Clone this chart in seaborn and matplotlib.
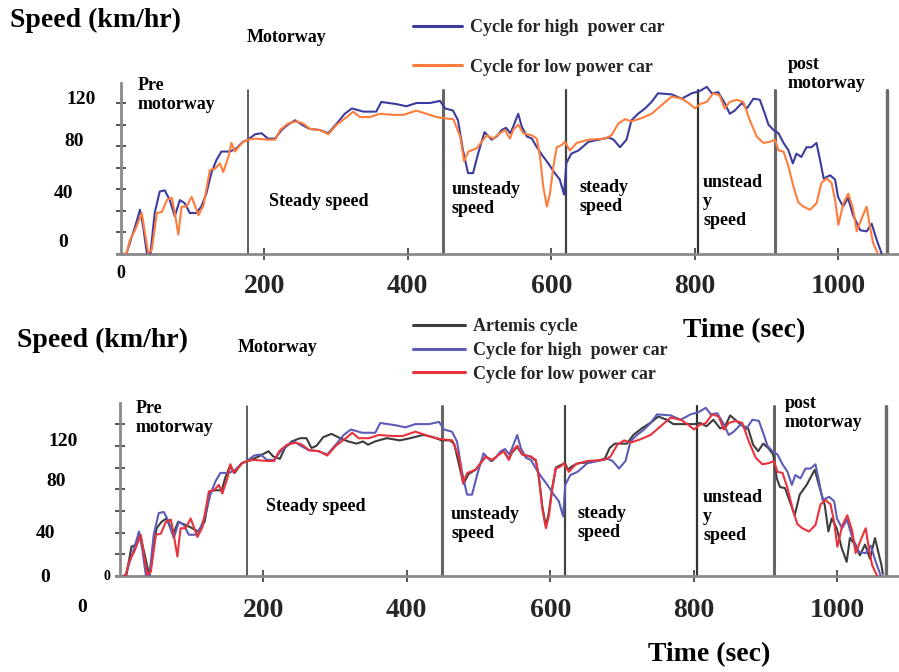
import numpy as np
import pandas as pd
import matplotlib
matplotlib.use("Agg")
import matplotlib.pyplot as plt
import seaborn as sns
from matplotlib.lines import Line2D

# ---------------- data (speed in km/h against time in s) ----------------
high_t = [5, 8, 15, 19.5, 26.5, 31, 36, 41, 47, 54, 61, 68, 75, 82, 89, 96, 105, 112, 119, 126,
          133, 140, 152, 161, 170, 177, 187, 196, 205, 215, 224, 233, 243, 252, 263, 277, 289, 301,
          312, 322, 338, 356, 363, 384, 398, 412, 431, 445, 452, 463, 470, 477, 484, 491, 498, 507,
          517, 524, 531, 537, 543, 547, 554, 559, 566, 573, 580, 587, 596, 605, 612, 618, 621, 628,
          638, 652, 666, 680, 687, 696, 705, 712, 721, 731, 740, 749, 768, 782, 796, 807, 817, 824,
          833, 842, 849, 856, 866, 873, 882, 891, 898, 903, 910, 917, 924, 931, 937, 942, 949, 956,
          963, 970, 975, 980, 989, 996, 1000, 1007, 1014, 1021, 1031, 1040, 1047, 1054, 1059, 1061]
high_v = [0, 1, 16, 25, 41, 25, 1, 0, 38, 58, 59, 50, 35, 50, 47, 38, 38, 44, 56, 75,
          87, 95, 95, 98, 104, 106, 111, 112, 107, 107, 115, 120, 124, 120, 116, 115, 112, 121,
          130, 135, 132, 132, 141, 139, 137, 140, 140, 142, 135, 133, 124, 96, 75, 75, 93, 113,
          106, 109, 115, 117, 112, 118, 130, 118, 109, 107, 99, 92, 84, 75, 69, 55, 84, 93,
          96, 104, 106, 108, 106, 99, 106, 124, 130, 135, 141, 149, 148, 144, 149, 151, 155, 149,
          150, 140, 130, 133, 140, 135, 144, 143, 130, 120, 115, 112, 103, 96, 84, 93, 90, 99,
          99, 103, 87, 70, 73, 69, 53, 44, 52, 36, 22, 21, 28, 13, 4, 0]

low_t = [5, 8, 12.5, 19.5, 29, 33.5, 38, 43, 50, 57, 64, 71, 75, 80, 84.5, 91.5, 98.6, 108, 115, 124,
         131, 138, 142.7, 149.7, 154, 159, 163.6, 170.5, 177.5, 187, 205.5, 215, 222, 233, 245, 254,
         263.5, 277.5, 289, 301, 315, 324, 333, 347, 361, 380, 394, 412, 426, 440, 449.5, 463.5,
         473, 478.5, 484.5, 496, 503, 510, 519, 528.6, 535.5, 542.5, 547, 554, 561, 573, 580, 584.4,
         589, 594, 598.3, 603, 607.7, 614.6, 619, 626, 635.6, 652, 675, 684, 693.6, 703, 712, 726,
         740, 754, 768, 782, 791.5, 800.6, 807.5, 817, 826, 835, 842, 849, 858.7, 868, 877, 886.6,
         896, 905, 912, 917, 924, 931, 938, 944.6, 951.6, 961, 970, 977, 984, 991, 996, 1000.5,
         1007.5, 1014.4, 1021, 1026, 1033, 1040, 1044.6, 1049, 1056]
low_v = [0, 1, 13, 22, 38, 19, 1, 4, 38, 39, 50, 52, 38, 18, 44, 44, 53, 36, 45, 78,
         79, 84, 76, 90, 103, 95, 99, 104, 106, 107, 106, 106, 115, 121, 123, 121,
         116, 115, 111, 120, 127, 132, 127, 127, 130, 129, 129, 133, 130, 127, 126, 125,
         109, 86, 95, 98, 104, 110, 107, 112, 115, 107, 115, 120, 112, 110, 107, 90,
         62, 44, 56, 81, 99, 101, 104, 96, 103, 106, 107, 110, 121, 125, 123, 126,
         130, 138, 146, 144, 140, 135, 139, 141, 149, 147, 135, 141, 143, 141, 124, 109,
         103, 104, 106, 96, 95, 81, 62, 48, 44, 41, 47, 66, 70, 66, 50, 27,
         47, 56, 42, 21, 33, 44, 25, 10, 0]

artemis_t = [5, 9, 16, 23, 28, 35, 41, 51, 58, 65, 74, 81, 88, 98, 109, 118, 125.5, 132.5, 142,
             146.5, 153, 160, 169.7, 179, 193, 207, 214, 223, 230, 239.5, 251, 260, 267, 274,
             283.5, 295, 307, 318.5, 330, 339, 346, 355.6, 372, 390.5, 404.5, 423, 437, 448.6,
             460, 466, 472, 479, 486, 496, 503, 510, 519, 528, 535, 542, 547, 554, 561, 573, 580,
             584, 589, 594, 598, 603, 608, 614, 620.6, 625, 630, 639, 658, 676, 683, 690, 707,
             716, 727.6, 741.6, 750.8, 762.5, 771.7, 787, 801, 809, 818, 827.5, 837, 844, 851,
             858, 867, 876, 883, 890, 897, 904, 911, 916, 920.5, 927.5, 934, 941, 948, 957.7,
             969, 976, 983, 988, 992.6, 999.6, 1006.5, 1013.5, 1018, 1025, 1032, 1039, 1046,
             1053, 1057.6, 1062, 1064]
artemis_v = [0, 1, 27, 29, 38, 18, 0, 44, 50, 53, 38, 50, 48, 45, 41, 50, 78, 79, 79,
             90, 101, 95, 104, 106, 110, 115, 110, 108, 118, 124, 127, 127, 118, 120,
             128, 131, 127, 124, 122, 124, 121, 124, 127, 125, 127, 130, 128, 125,
             125, 122, 105, 85, 94, 98, 104, 110, 106, 112, 115, 108, 114, 119, 112, 110, 106,
             92, 64, 46, 58, 82, 100, 102, 104, 98, 101, 104, 105, 108, 118, 122, 122,
             130, 136, 142, 147, 144, 140, 140, 140, 141, 138, 144, 136, 138, 148,
             144, 139, 136, 121, 115, 122, 118, 112, 90, 82, 81, 69, 56, 75, 84,
             98, 81, 65, 41, 53, 44, 26, 13, 35, 29, 19, 29, 16,
             35, 22, 10, 2]

section_bounds = [177, 449, 621, 805, 912, 1069]
x_ticks = [200, 400, 600, 800, 1000]
y_ticks = [0, 20, 40, 60, 80, 100, 120, 140]
y_label_text = ["0", "40", "80", "120"]

label_high = "Cycle for high  power car"
label_low = "Cycle for low power car"
label_artemis = "Artemis cycle"

# ---------------- style ----------------
sns.set_style("white")
plt.rcParams["font.family"] = ["Liberation Serif", "DejaVu Serif"]
plt.rcParams["font.weight"] = "bold"

W, H = 899, 672
fig = plt.figure(figsize=(W / 100, H / 100), dpi=100)
fig.patch.set_facecolor("white")


def fx(x):
    return x / W


def fy(y):
    return 1 - y / H


def ftext(x, y, s, size=13, ha="left", va="center", **kw):
    fig.text(fx(x), fy(y), s, fontsize=size, fontweight="bold", ha=ha, va=va,
             linespacing=1.15, color="black", **kw)


PX_PER_S = 0.717
AX_GREY = "#8a8a8a"


def make_axes(x0_px, y_axis_px, y_top_px, ymax, label_pad):
    xmin = -5
    left = x0_px + xmin * PX_PER_S
    xmax = (W - x0_px) / PX_PER_S
    ax = fig.add_axes([fx(left), fy(y_axis_px), (W - left) / W, (y_axis_px - y_top_px) / H])
    ax.set_xlim(xmin, xmax)
    ax.set_ylim(0, ymax)
    ax.patch.set_alpha(0)
    for s in ("top", "right"):
        ax.spines[s].set_visible(False)
    ax.spines["left"].set_position(("data", 0))
    for s in ("left", "bottom"):
        ax.spines[s].set_color(AX_GREY)
        ax.spines[s].set_linewidth(2.0)
    ax.set_yticks(y_ticks)
    ax.set_yticklabels([])
    ax.set_xticks(x_ticks)
    ax.set_xticklabels([str(v) for v in x_ticks], fontsize=20, fontweight="bold")
    ax.tick_params(axis="both", direction="inout", color="#555555", width=1.4,
                   left=True, bottom=True)
    ax.tick_params(axis="y", length=7)
    ax.tick_params(axis="x", length=9, pad=label_pad)
    return ax


def draw_bounds(ax, ymax_frac):
    widths = [1.1, 2.2, 1.6, 1.6, 2.2, 2.4]
    colors = ["#333333", "#666666", "#444444", "#333333", "#666666", "#6a6a6a"]
    for t, lw, c in zip(section_bounds, widths, colors):
        ax.axvline(t, ymin=0, ymax=ymax_frac, color=c, lw=lw, zorder=1)


def section_labels(rows):
    for x, y, s in rows:
        ftext(x, y, s, size=13, va="top")


# ---------------- top panel ----------------
ax1 = make_axes(121, 254, 83, 171 * 20 / 21.57, label_pad=10)
draw_bounds(ax1, 0.96)
top_df = pd.concat([
    pd.DataFrame({"t": high_t, "v": high_v, "cycle": label_high}),
    pd.DataFrame({"t": low_t, "v": low_v, "cycle": label_low}),
])
sns.lineplot(data=top_df, x="t", y="v", hue="cycle", estimator=None, sort=False,
             palette={label_high: "#3c3c9e", label_low: "#ff7d3c"},
             linewidth=1.5, ax=ax1, legend=False, zorder=3)
ax1.set_xlabel("")
ax1.set_ylabel("")

# ---------------- bottom panel ----------------
ax2 = make_axes(120, 576, 403, 173 * 20 / 21.7, label_pad=11)
draw_bounds(ax2, 0.98)
bot_df = pd.concat([
    pd.DataFrame({"t": artemis_t, "v": artemis_v, "cycle": label_artemis}),
    pd.DataFrame({"t": high_t, "v": high_v, "cycle": label_high}),
    pd.DataFrame({"t": low_t, "v": low_v, "cycle": label_low}),
])
sns.lineplot(data=bot_df, x="t", y="v", hue="cycle", estimator=None, sort=False,
             palette={label_artemis: "#3d3d3d", label_high: "#5c5cb8", label_low: "#e8323c"},
             linewidth=1.5, ax=ax2, legend=False, zorder=3)
ax2.set_xlabel("")
ax2.set_ylabel("")

# ---------------- legends ----------------
fig.legend(
    handles=[Line2D([], [], color="#3c3c9e", lw=2.2), Line2D([], [], color="#ff7d3c", lw=2.2)],
    labels=[label_high, label_low], loc="upper left", bbox_to_anchor=(fx(413), fy(19)),
    frameon=False, borderpad=0, borderaxespad=0, handlelength=2.7, handletextpad=0.45,
    labelspacing=1.25, prop={"size": 13, "weight": "bold"})

fig.legend(
    handles=[Line2D([], [], color="#3d3d3d", lw=2.2), Line2D([], [], color="#5c5cb8", lw=2.2),
             Line2D([], [], color="#e8323c", lw=2.2)],
    labels=[label_artemis, label_high, label_low], loc="upper left",
    bbox_to_anchor=(fx(413), fy(318)), frameon=False, borderpad=0, borderaxespad=0,
    handlelength=2.9, handletextpad=0.45, labelspacing=0.38,
    prop={"size": 13, "weight": "bold"})

# ---------------- axis titles and overlaid labels ----------------
ftext(10, 20, "Speed (km/hr)", size=20)
ftext(17, 340, "Speed (km/hr)", size=20)
ftext(247, 37, "Motorway", size=13)
ftext(238, 347, "Motorway", size=13)
ftext(744, 331, "Time (sec)", size=20, ha="center")
ftext(709, 655, "Time (sec)", size=20, ha="center")

# y-axis value labels
for (x, y), s in zip([(63, 242), (64, 193), (74, 141), (81, 100)], y_label_text):
    ftext(x, y, s, size=14, ha="center")
for (x, y), s in zip([(45, 578), (46, 533), (56, 482), (63, 442)], y_label_text):
    ftext(x, y, s, size=14, ha="center")
ftext(121, 273, "0", size=13, ha="center")
ftext(107, 577, "0", size=10, ha="center")
ftext(82, 607, "0", size=14, ha="center")

section_labels([
    (138, 77, "Pre\nmotorway"),
    (269, 193, "Steady speed"),
    (452, 181, "unsteady\nspeed"),
    (580, 179, "steady\nspeed"),
    (703, 174, "unstead\ny\nspeed"),
    (788, 56, "post\nmotorway"),
    (136, 400, "Pre\nmotorway"),
    (266, 498, "Steady speed"),
    (451, 506, "unsteady\nspeed"),
    (578, 505, "steady\nspeed"),
    (703, 489, "unstead\ny\nspeed"),
    (785, 395, "post\nmotorway"),
])

fig.savefig("out.png", dpi=100, facecolor="white")
